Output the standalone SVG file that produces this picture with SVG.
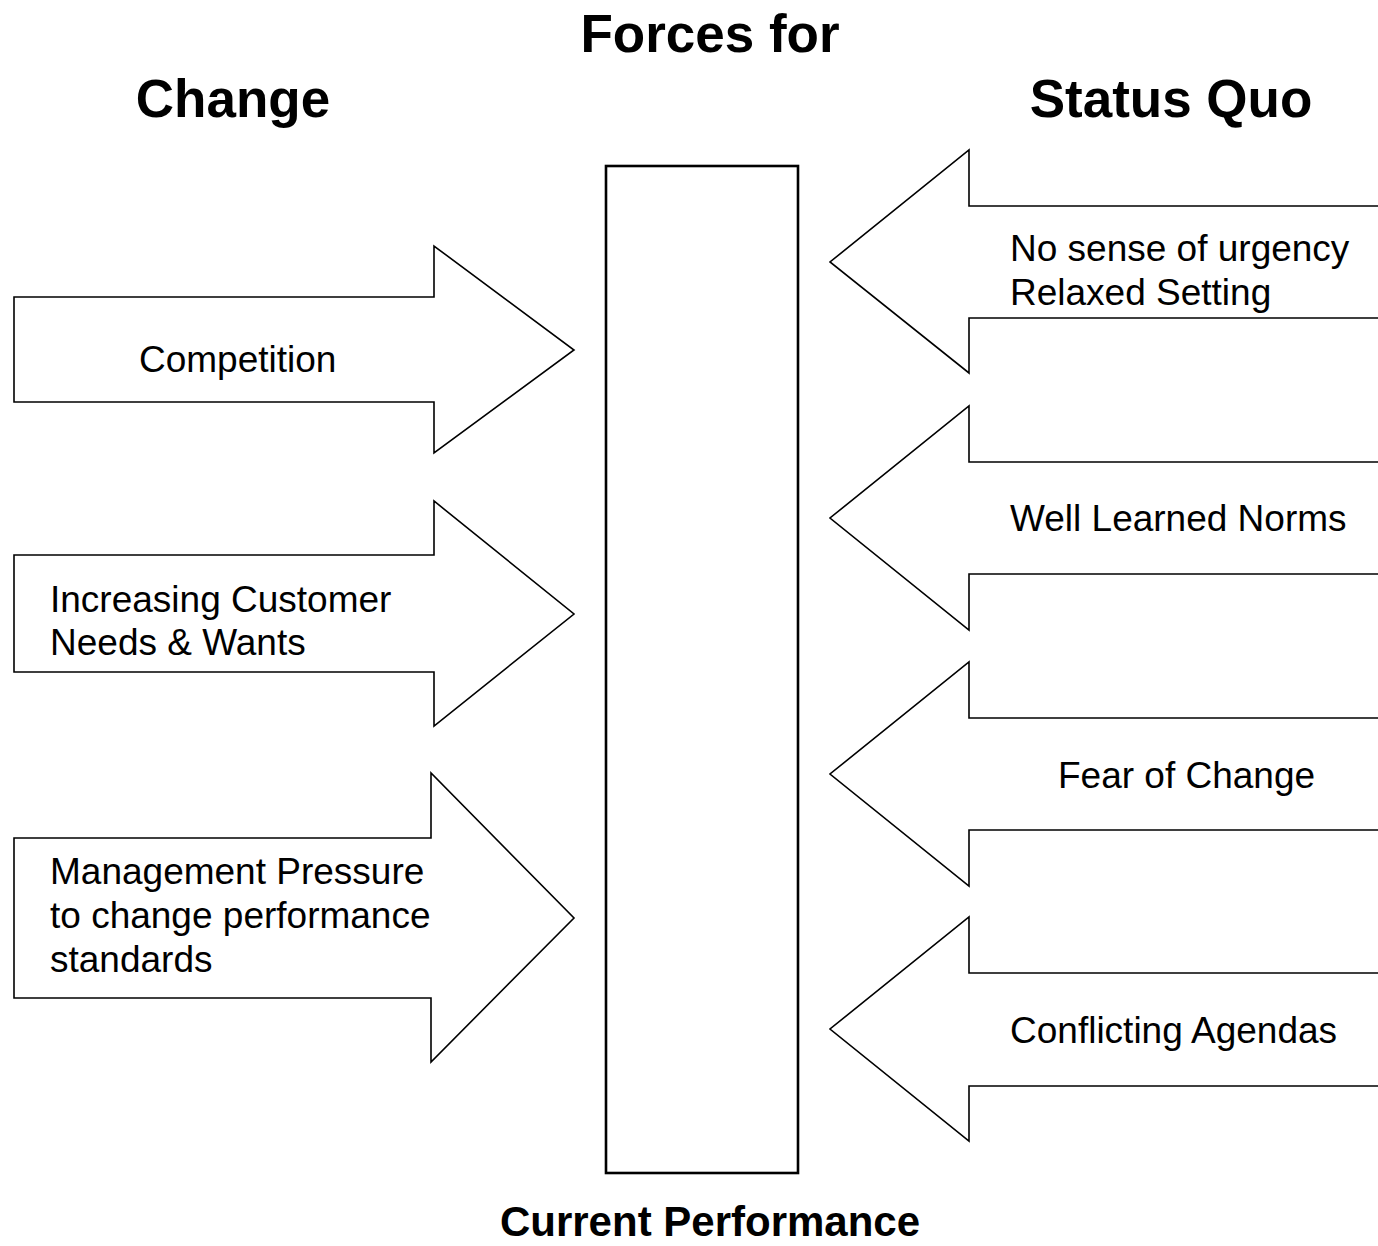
<svg xmlns="http://www.w3.org/2000/svg" width="1378" height="1246" viewBox="0 0 1378 1246">
  <style>
    .arrow { fill: #ffffff; stroke: #000000; stroke-width: 1.6; stroke-linejoin: miter; }
    .bar { fill: #ffffff; stroke: #000000; stroke-width: 2.6; }
    .label { font-family: "Liberation Sans", Arial, Helvetica, sans-serif; font-size: 37px; fill: #000000; }
    .title { font-family: "Liberation Sans", Arial, Helvetica, sans-serif; font-size: 53px; font-weight: bold; fill: #000000; }
    .caption { font-family: "Liberation Sans", Arial, Helvetica, sans-serif; font-size: 42px; font-weight: bold; fill: #000000; }
  </style>
  <rect width="1378" height="1246" fill="#ffffff"/>

  <!-- headings -->
  <g id="headings">
    <text class="title" x="710" y="52" text-anchor="middle">Forces for</text>
    <text class="title" x="233" y="117" text-anchor="middle">Change</text>
    <text class="title" x="1171" y="117" text-anchor="middle">Status Quo</text>
  </g>

  <!-- current performance bar -->
  <g id="current-performance">
    <rect class="bar" x="606" y="166" width="192" height="1007"/>
    <text class="caption" x="710" y="1236" text-anchor="middle">Current Performance</text>
  </g>

  <!-- driving forces (pointing right) -->
  <g id="connectors">
    <g id="force-competition">
      <path class="arrow" d="M14,297 H434 V246 L574,350 L434,453 V402 H14 Z"/>
      <text class="label" x="139" y="372">Competition</text>
    </g>
    <g id="force-customer-needs">
      <path class="arrow" d="M14,555 H434 V501 L574,614 L434,726 V672 H14 Z"/>
      <text class="label" x="50" y="612">Increasing Customer</text>
      <text class="label" x="50" y="655">Needs &amp; Wants</text>
    </g>
    <g id="force-management-pressure">
      <path class="arrow" d="M14,838 H431 V773 L574,918 L431,1062 V998 H14 Z"/>
      <text class="label" x="50" y="884">Management Pressure</text>
      <text class="label" x="50" y="928">to change performance</text>
      <text class="label" x="50" y="972">standards</text>
    </g>

    <!-- restraining forces (pointing left) -->
    <g id="force-no-urgency">
      <path class="arrow" d="M1382,206 H969 V150 L830,262 L969,373 V318 H1382"/>
      <text class="label" x="1010" y="261">No sense of urgency</text>
      <text class="label" x="1010" y="305">Relaxed Setting</text>
    </g>
    <g id="force-norms">
      <path class="arrow" d="M1382,462 H969 V406 L830,518 L969,630 V574 H1382"/>
      <text class="label" x="1010" y="531">Well Learned Norms</text>
    </g>
    <g id="force-fear">
      <path class="arrow" d="M1382,718 H969 V662 L830,774 L969,886 V830 H1382"/>
      <text class="label" x="1058" y="788">Fear of Change</text>
    </g>
    <g id="force-agendas">
      <path class="arrow" d="M1382,973 H969 V917 L830,1029 L969,1141 V1086 H1382"/>
      <text class="label" x="1010" y="1043">Conflicting Agendas</text>
    </g>
  </g>
</svg>
